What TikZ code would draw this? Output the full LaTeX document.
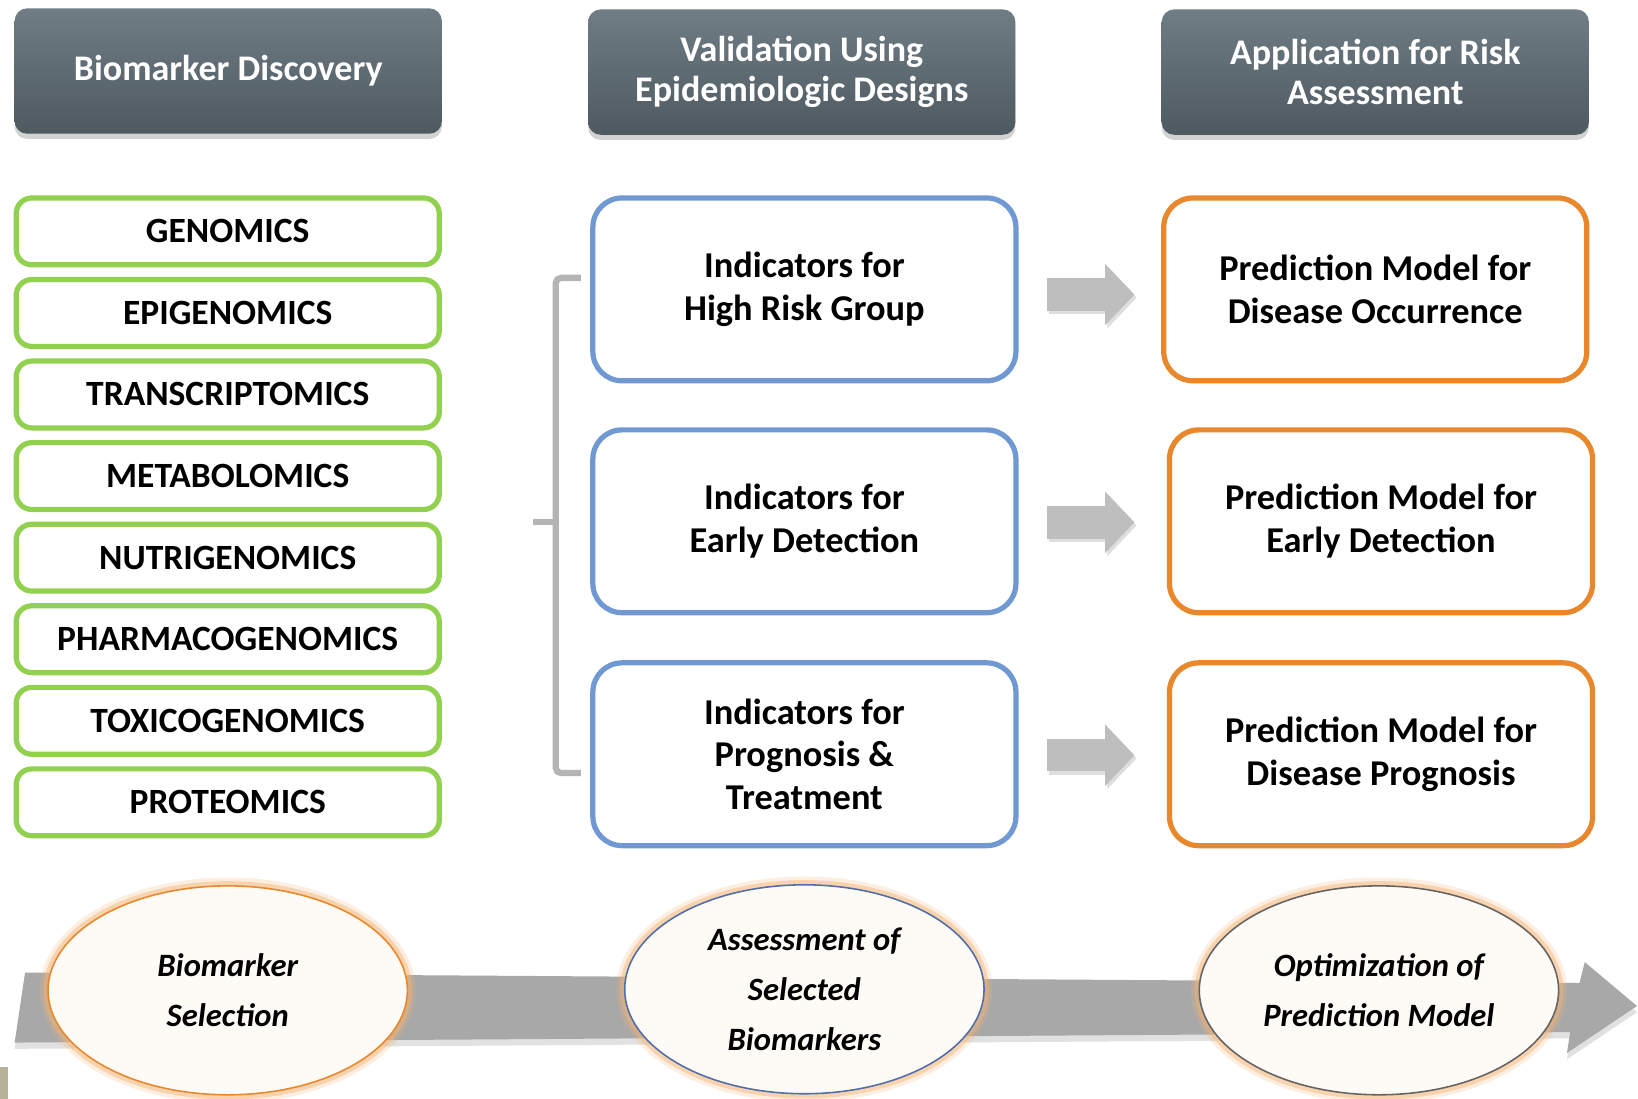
\documentclass[tikz,border=0pt]{standalone}
\usepackage{fontspec}
\setmainfont{Carlito}
\usetikzlibrary{shapes.geometric,shadows,arrows.meta}
\definecolor{hdtop}{RGB}{112,125,133}
\definecolor{hdbot}{RGB}{78,89,96}
\definecolor{grn}{RGB}{146,208,80}
\definecolor{blu}{RGB}{112,153,212}
\definecolor{org}{RGB}{232,135,43}
\definecolor{arr}{RGB}{190,190,190}
\definecolor{arrsh}{RGB}{222,222,222}
\definecolor{brk}{RGB}{180,180,180}
\definecolor{bandc}{RGB}{168,168,168}
\definecolor{bandsh}{RGB}{225,225,225}
\definecolor{cream}{RGB}{254,250,245}
\definecolor{glow}{RGB}{245,180,115}
\definecolor{oliv}{RGB}{182,178,152}
\definecolor{eblue}{RGB}{80,110,170}
\definecolor{egray}{RGB}{100,100,100}
\begin{document}
\begin{tikzpicture}[x=1pt,y=-1pt,
  hdr/.style={rectangle, rounded corners=12pt, minimum width=409pt, minimum height=120pt,
    top color=hdtop, bottom color=hdbot, draw=none, text=white, align=center,
    font=\fontsize{34.5}{38}\selectfont\bfseries,
    drop shadow={shadow xshift=0pt, shadow yshift=-5pt, opacity=0.35}},
  omic/.style={rectangle, rounded corners=15pt, minimum width=405pt, minimum height=64pt,
    draw=grn, line width=5pt, fill=white, font=\fontsize{34}{40}\selectfont\bfseries},
  ind/.style={rectangle, rounded corners=28pt, minimum width=405pt, minimum height=175pt,
    draw=blu, line width=5pt, fill=white, align=center,
    font=\fontsize{34.8}{41}\selectfont\bfseries},
  pred/.style={ind, draw=org},
  stage/.style={ellipse, minimum width=344pt, minimum height=200pt, inner sep=0pt,
    fill=cream, line width=1.5pt, align=center,
    font=\fontsize{31.2}{48}\selectfont\bfseries\itshape,
    preaction={draw=glow, line width=16pt, opacity=0.22},
    preaction={draw=glow, line width=9pt, opacity=0.45}},
  blockarrow/.style={draw=arr, line width=31pt, -{Triangle[length=28pt,width=57pt]}},
  blockshadow/.style={draw=arrsh, line width=31pt, -{Triangle[length=28pt,width=57pt]}},
  bracket/.style={draw=brk, line width=6pt, rounded corners=5pt},
]
\useasboundingbox (0,0) rectangle (1568,1052);
\fill[white] (0,0) rectangle (1568,1052);

% bottom process band
\fill[bandsh] (14,1004) -- (24,937) -- (1512,947) -- (1517,927) -- (1567,969) -- (1500,1014) -- (1503,994) -- cycle;
\fill[bandc] (14,998) -- (24,931) -- (1512,941) -- (1517,921) -- (1567,963) -- (1500,1008) -- (1503,988) -- cycle;

% stage ellipses
\node[stage, draw=org]   (e1) at (218,948)  {Biomarker\\Selection};
\node[stage, draw=eblue] (e2) at (770,947)  {Assessment of\\Selected\\Biomarkers};
\node[stage, draw=egray] (e3) at (1320,948) {Optimization of\\Prediction Model};

% headers
\node[hdr] (h1) at (218.5,68)  {Biomarker Discovery};
\node[hdr] (h2) at (767.5,69)  {Validation Using\\Epidemiologic Designs};
\node[hdr] (h3) at (1316.5,69) {Application for Risk\\Assessment};

% omics boxes
\node[omic] (g1) at (218,221.5) {GENOMICS};
\node[omic] (g2) at (218,299.6) {EPIGENOMICS};
\node[omic] (g3) at (218,377.6) {TRANSCRIPTOMICS};
\node[omic] (g4) at (218,455.7) {METABOLOMICS};
\node[omic] (g5) at (218,533.8) {NUTRIGENOMICS};
\node[omic] (g6) at (218,611.9) {PHARMACOGENOMICS};
\node[omic] (g7) at (218,690.0) {TOXICOGENOMICS};
\node[omic] (g8) at (218,768.0) {PROTEOMICS};

% indicator boxes
\node[ind] (b1) at (770,277) {Indicators for\\High Risk Group};
\node[ind] (b2) at (770,499) {Indicators for\\Early Detection};
\node[ind] (b3) at (770,722) {Indicators for\\Prognosis \&\\Treatment};

% prediction boxes
\node[pred] (o1) at (1316.5,277) {Prediction Model for\\Disease Occurrence};
\node[pred] (o2) at (1322,499)   {Prediction Model for\\Early Detection};
\node[pred] (o3) at (1322,722)   {Prediction Model for\\Disease Prognosis};

% bracket
\draw[bracket] (556,266) -- (532,266) -- (532,740) -- (556,740);
\draw[draw=brk, line width=6pt] (532,500) -- (510,500);

% block arrows
\draw[blockshadow] ([xshift=29.5pt,yshift=-8pt]b1.east) -- ([xshift=-23.5pt,yshift=-8pt]o1.west);
\draw[blockarrow]  ([xshift=27.5pt,yshift=-5pt]b1.east) -- ([xshift=-25.5pt,yshift=-5pt]o1.west);
\draw[blockshadow] ([xshift=29.5pt,yshift=-4pt]b2.east) -- ([xshift=-29pt,yshift=-4pt]o2.west);
\draw[blockarrow]  ([xshift=27.5pt,yshift=-1pt]b2.east) -- ([xshift=-31pt,yshift=-1pt]o2.west);
\draw[blockshadow] ([xshift=29.5pt,yshift=-4pt]b3.east) -- ([xshift=-29pt,yshift=-4pt]o3.west);
\draw[blockarrow]  ([xshift=27.5pt,yshift=-1pt]b3.east) -- ([xshift=-31pt,yshift=-1pt]o3.west);

% corner mark
\fill[oliv] (0,1021) rectangle (8,1052);
\end{tikzpicture}
\end{document}
